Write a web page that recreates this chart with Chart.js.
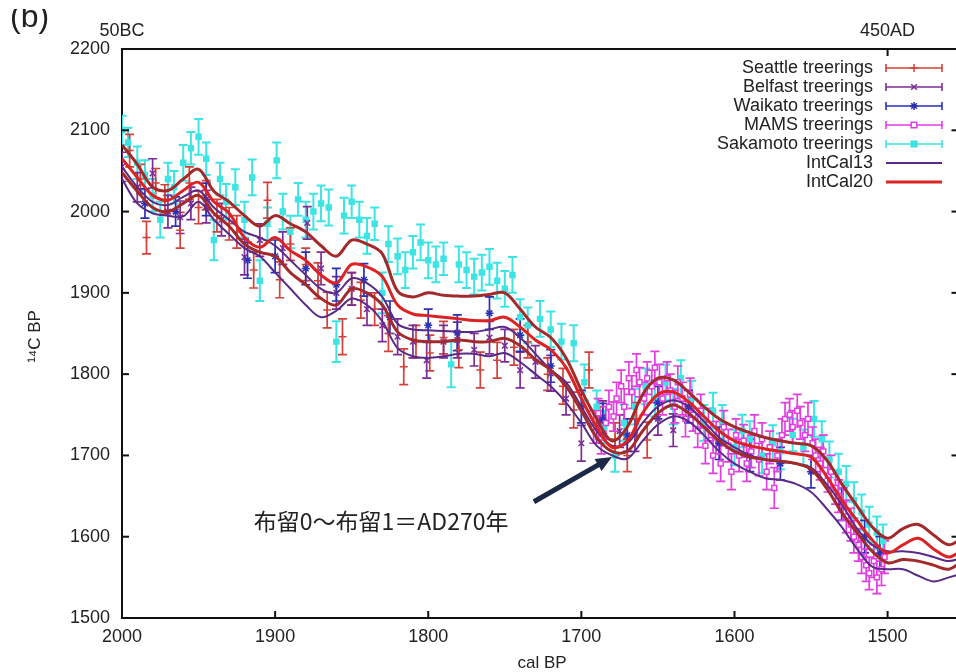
<!DOCTYPE html>
<html>
<head>
<meta charset="utf-8">
<script src="https://cdn.jsdelivr.net/npm/chart.js@4.4.0/dist/chart.umd.min.js"></script>
<style>
  html, body { margin: 0; padding: 0; background: #fff; overflow: hidden; }
</style>
</head>
<body>
<canvas id="graf14c" width="962" height="672"></canvas>
<script>
// eixos ------------------------------------------
const xTickValues = [2000, 1900, 1800, 1700, 1600, 1500];
const yTickValues = [1500, 1600, 1700, 1800, 1900, 2000, 2100, 2200];
const topLabelYears = [2000, 1500];
const topLabels = ['50BC', '450AD'];

// curvas de calibracao (cal BP -> 14C BP) -----------
const curveYears = [2000,1990,1980,1970,1960,1950,1940,1930,1920,1910,
  1900,1890,1880,1870,1860,1850,1840,1830,1820,1810,
  1800,1790,1780,1770,1760,1750,1740,1730,1720,1710,
  1700,1690,1680,1670,1660,1650,1640,1630,1620,1610,
  1600,1590,1580,1570,1560,1550,1540,1530,1520,1510,
  1500,1490,1480,1470,1460,1450];
const intcal20Upper = [2082,2058,2030,2026,2040,2052,2025,2012,1995,1982,
  1995,1985,1975,1958,1945,1965,1960,1948,1902,1895,
  1900,1897,1896,1896,1898,1900,1880,1858,1845,1820,
  1780,1745,1718,1735,1775,1795,1793,1778,1760,1745,
  1735,1728,1722,1718,1715,1712,1695,1665,1638,1612,
  1598,1610,1615,1602,1590,1600];
const intcal20Mid = [2065,2042,2020,2014,2026,2036,2012,1998,1968,1956,
  1968,1952,1940,1922,1912,1935,1932,1920,1885,1874,
  1872,1870,1868,1866,1866,1870,1858,1842,1830,1808,
  1770,1735,1710,1718,1752,1775,1778,1766,1748,1730,
  1718,1712,1708,1705,1702,1698,1675,1645,1620,1596,
  1580,1590,1598,1585,1575,1585];
const intcal20Lower = [2048,2025,2005,2000,2010,2020,1998,1982,1960,1950,
  1945,1925,1910,1893,1885,1905,1900,1885,1852,1842,
  1840,1840,1842,1840,1840,1844,1835,1818,1805,1785,
  1755,1722,1705,1705,1730,1752,1762,1752,1735,1718,
  1705,1698,1695,1693,1690,1683,1660,1630,1605,1582,
  1568,1572,1570,1565,1560,1572];
const intcal13Upper = [2055,2030,2012,2008,2018,2026,2005,1990,1975,1968,
  1958,1940,1922,1905,1900,1918,1912,1895,1862,1855,
  1854,1853,1852,1852,1855,1858,1845,1825,1805,1790,
  1760,1730,1712,1715,1740,1760,1768,1760,1742,1722,
  1710,1700,1695,1692,1690,1685,1665,1640,1610,1590,
  1582,1582,1580,1575,1570,1575];
const intcal13Lower = [2040,2010,1998,1995,1994,2012,1990,1972,1955,1945,
  1925,1905,1885,1870,1878,1893,1885,1865,1832,1822,
  1820,1822,1825,1825,1822,1826,1815,1800,1785,1765,
  1740,1712,1700,1696,1718,1738,1748,1742,1725,1705,
  1690,1680,1672,1670,1665,1655,1635,1612,1585,1563,
  1560,1560,1552,1545,1550,1555];

// medidas (aneis de arvores) ----------------------
const seattleYears = [1995,1988,1984,1978,1972,1962,1956,1950,1945,1938,
  1930,1925,1914,1905,1897,1890,1880,1872,1866,1856,
  1850,1844,1835,1826,1816,1808,1799,1790,1780,1766,
  1755,1744,1735,1722,1712,1705,1695,1688,1678,1670,
  1664,1657];
const seattleC14 = [2075,2040,1968,2035,2015,1977,2035,2005,2020,1995,
  1985,1975,1928,2014,1916,1960,1935,1915,1879,1846,
  1905,1891,1880,1850,1809,1840,1826,1845,1830,1805,
  1817,1833,1840,1800,1785,1756,1805,1740,1720,1700,
  1745,1719];
const seattleErr = [20,18,20,18,18,22,20,20,18,20,
  20,20,22,22,22,20,20,22,22,22,
  20,22,20,22,22,20,22,20,22,22,
  22,22,20,20,22,22,22,20,20,20,
  20,22];

const belfastYears = [2000,1990,1980,1970,1962,1955,1945,1935,1920,1910,
  1895,1879,1870,1860,1850,1840,1830,1820,1810,1801,
  1790,1781,1770,1760,1750,1740,1730,1720,1710,1700,
  1690,1686,1675,1665,1650,1640];
const belfastC14 = [2055,2030,2047,2000,1993,2010,2006,1990,1944,1965,
  1955,1986,1930,1900,1905,1880,1860,1846,1840,1817,
  1840,1842,1830,1845,1835,1805,1815,1801,1770,1715,
  1735,1747,1730,1725,1745,1731];
const belfastErr = [18,18,18,20,20,20,20,20,22,20,
  20,20,20,20,20,20,20,22,20,22,
  20,22,20,20,20,22,20,22,20,22,
  20,20,20,20,20,20];

const waikatoYears = [1985,1965,1945,1918,1900,1880,1860,1842,1825,1800,
  1781,1760,1740,1720,1700,1686,1670,1650,1630,1610,
  1590,1570,1550,1530,1515,1505];
const waikatoC14 = [2010,2000,2015,1940,1945,1930,1910,1916,1870,1860,
  1851,1875,1848,1810,1760,1744,1725,1765,1760,1715,
  1700,1690,1680,1640,1600,1580];
const waikatoErr = [18,18,20,22,20,20,20,20,20,20,
  22,20,20,20,20,20,20,20,20,20,
  20,20,20,20,20,20];

const mamsYears = [1692,1689,1687,1684,1682,1679,1677,1674,1672,1669,
  1667,1664,1662,1659,1657,1654,1652,1649,1647,1644,
  1642,1639,1637,1634,1632,1629,1627,1624,1622,1619,
  1617,1614,1612,1609,1607,1604,1602,1599,1597,1594,
  1592,1589,1587,1584,1582,1579,1577,1574,1572,1569,
  1567,1564,1562,1559,1557,1554,1552,1549,1547,1544,
  1542,1539,1537,1534,1532,1529,1527,1524,1522,1519,
  1517,1514,1512,1509,1507,1504,1502];
const mamsC14 = [1735,1752,1722,1740,1760,1748,1770,1785,1760,1795,
  1778,1805,1790,1770,1795,1785,1808,1790,1770,1795,
  1780,1760,1790,1770,1745,1775,1750,1730,1755,1712,
  1738,1700,1722,1690,1735,1712,1680,1725,1700,1718,
  1690,1705,1730,1695,1720,1680,1710,1660,1700,1725,
  1745,1750,1735,1755,1740,1725,1745,1715,1700,1690,
  1705,1675,1680,1660,1650,1640,1625,1615,1600,1590,
  1575,1565,1555,1570,1550,1560,1575];
const mamsErr = [20,18,20,20,20,18,20,20,22,20,
  20,20,18,20,20,20,20,22,20,20,
  20,20,20,20,22,20,20,20,20,22,
  20,22,20,22,20,20,22,20,20,20,
  22,20,20,20,20,22,20,25,20,20,
  20,20,20,20,20,20,20,20,20,20,
  20,20,20,20,20,20,20,20,20,20,
  20,20,20,20,20,20,20];

const sakamotoYears = [2000,1996,1990,1985,1980,1975,1970,1966,1960,1955,
  1950,1945,1940,1936,1932,1926,1920,1915,1910,1905,
  1899,1895,1890,1885,1880,1875,1870,1865,1860,1855,
  1850,1845,1840,1835,1830,1826,1820,1815,1810,1805,
  1800,1795,1790,1785,1780,1775,1770,1765,1760,1755,
  1750,1745,1740,1735,1727,1720,1713,1705,1698,1690,
  1685,1678,1672,1665,1658,1652,1645,1640,1635,1628,
  1620,1614,1608,1600,1595,1590,1582,1575,1570,1562,
  1555,1548,1543,1538,1532,1527,1522,1517,1512,1507,
  1503];
const sakamotoC14 = [2100,2085,2060,2045,2020,1990,2040,2030,2060,2078,
  2092,2065,1965,2040,2012,2030,1990,2042,1915,1985,
  2063,2000,1975,2015,1990,2000,2010,2005,1840,1995,
  2012,1990,1970,1985,1900,1960,1945,1928,1950,1962,
  1940,1935,1942,1812,1935,1928,1920,1925,1932,1915,
  1905,1922,1870,1860,1868,1855,1840,1838,1790,1760,
  1735,1700,1740,1760,1785,1770,1790,1760,1795,1770,
  1740,1755,1740,1710,1730,1720,1700,1715,1705,1725,
  1710,1745,1720,1695,1680,1665,1645,1630,1615,1605,
  1595];
const sakamotoErr = [18,18,20,18,20,22,20,20,22,20,
  22,20,25,20,22,22,22,22,25,20,
  22,22,20,20,22,22,22,22,25,22,
  20,22,22,20,25,22,22,22,20,22,
  22,22,20,28,22,22,22,22,22,22,
  22,22,22,22,22,22,22,22,22,20,
  20,20,22,22,22,22,22,22,22,22,
  22,22,22,22,20,22,22,22,22,20,
  22,22,22,22,22,22,22,22,22,20,
  20];

// anotacao
const noteText = '布留0〜布留1＝AD270年';
const noteAt = [1910, 1619];
const arrowFrom = [1731, 1643];
const arrowTo = [1680, 1698];

// cores
const corSeattle = '#d2423a';
const corBelfast = '#7c2c96';
const corWaikato = '#2a30b8';
const corMams = '#e23ee2';
const corSakamoto = '#3de4e4';
const corIntcal13 = '#5a2a88';
const corIntcal20 = '#dc2222';
const corIntcal20Edge = '#a32a2a';

function pts(xs, ys) { return xs.map((v, i) => ({ x: v, y: ys[i] })); }

// series com barras de erro (ordem de desenho)
const pointSeries = [
  { label: 'Sakamoto treerings', years: sakamotoYears, c14: sakamotoC14, err: sakamotoErr, color: corSakamoto, style: 'rect', fill: corSakamoto, radius: 3.5, bw: 2 },
  { label: 'Seattle treerings', years: seattleYears, c14: seattleC14, err: seattleErr, color: corSeattle, style: 'cross', fill: corSeattle, radius: 4, bw: 1.7 },
  { label: 'Belfast treerings', years: belfastYears, c14: belfastC14, err: belfastErr, color: corBelfast, style: 'crossRot', fill: corBelfast, radius: 4, bw: 1.7 },
  { label: 'Waikato treerings', years: waikatoYears, c14: waikatoC14, err: waikatoErr, color: corWaikato, style: 'star', fill: corWaikato, radius: 4, bw: 1.7 },
  { label: 'MAMS treerings', years: mamsYears, c14: mamsC14, err: mamsErr, color: corMams, style: 'rect', fill: '#ffffff', radius: 3.5, bw: 1.7 }
];

const datasets = [];
pointSeries.forEach((s, i) => {
  datasets.push({
    label: s.label,
    data: pts(s.years, s.c14),
    showLine: false,
    pointStyle: s.style,
    pointRadius: s.radius,
    pointBackgroundColor: s.fill,
    pointBorderColor: s.color,
    pointBorderWidth: 1.5,
    order: 10 + (pointSeries.length - i)
  });
});

function curve(label, ys, color, width, order) {
  return {
    label: label,
    data: pts(curveYears, ys),
    showLine: true,
    borderColor: color,
    borderWidth: width,
    pointRadius: 0,
    tension: 0.35,
    order: order
  };
}
datasets.push(curve('IntCal13 +1s', intcal13Upper, corIntcal13, 2, 3));
datasets.push(curve('IntCal13 -1s', intcal13Lower, corIntcal13, 2, 3));
datasets.push(curve('IntCal20 +1s', intcal20Upper, corIntcal20Edge, 3, 2));
datasets.push(curve('IntCal20 -1s', intcal20Lower, corIntcal20Edge, 3, 2));
datasets.push(curve('IntCal20', intcal20Mid, corIntcal20, 3, 1));

// barras de erro ------------------------------------
const errorBars = {
  id: 'errorBars',
  beforeDatasetsDraw(chart) {
    const { ctx, chartArea: a, scales: { x, y } } = chart;
    ctx.save();
    ctx.beginPath();
    ctx.rect(a.left, a.top, a.right - a.left, a.bottom - a.top);
    ctx.clip();
    pointSeries.forEach(s => {
      ctx.strokeStyle = s.color;
      ctx.lineWidth = s.bw;
      s.years.forEach((yr, i) => {
        const px = x.getPixelForValue(yr);
        const top = y.getPixelForValue(s.c14[i] + s.err[i]);
        const bot = y.getPixelForValue(s.c14[i] - s.err[i]);
        ctx.beginPath();
        ctx.moveTo(px, top); ctx.lineTo(px, bot);
        ctx.moveTo(px - 4.5, top); ctx.lineTo(px + 4.5, top);
        ctx.moveTo(px - 4.5, bot); ctx.lineTo(px + 4.5, bot);
        ctx.stroke();
      });
    });
    ctx.restore();
  }
};

// moldura, rotulos, legenda, anotacao ---------------
const legendRows = [
  { label: 'Seattle treerings', color: corSeattle, style: 'cross', fill: corSeattle, bar: true, width: 1.6 },
  { label: 'Belfast treerings', color: corBelfast, style: 'crossRot', fill: corBelfast, bar: true, width: 1.6 },
  { label: 'Waikato treerings', color: corWaikato, style: 'star', fill: corWaikato, bar: true, width: 1.6 },
  { label: 'MAMS treerings', color: corMams, style: 'rect', fill: '#ffffff', bar: true, width: 1.6 },
  { label: 'Sakamoto treerings', color: corSakamoto, style: 'rect', fill: corSakamoto, bar: true, width: 1.6 },
  { label: 'IntCal13', color: corIntcal13, bar: false, width: 2 },
  { label: 'IntCal20', color: corIntcal20, bar: false, width: 3 }
];

const decorations = {
  id: 'decorations',
  afterDraw(chart) {
    const { ctx, chartArea: a, scales: { x, y } } = chart;
    ctx.save();
    ctx.strokeStyle = '#111';
    ctx.lineWidth = 2;
    ctx.beginPath();
    ctx.moveTo(a.left - 1, a.top); ctx.lineTo(a.right, a.top);
    ctx.stroke();

    // ticks para dentro
    xTickValues.forEach(v => {
      if (v === 2000) return;
      const px = x.getPixelForValue(v);
      ctx.beginPath(); ctx.moveTo(px, a.bottom); ctx.lineTo(px, a.bottom - 7); ctx.stroke();
    });
    yTickValues.forEach(v => {
      if (v === 1500 || v === 2200) return;
      const py = y.getPixelForValue(v);
      ctx.beginPath(); ctx.moveTo(a.left, py); ctx.lineTo(a.left + 7, py); ctx.stroke();
      ctx.beginPath(); ctx.moveTo(a.right - 5, py); ctx.lineTo(a.right, py); ctx.stroke();
    });
    const pxAD = x.getPixelForValue(topLabelYears[1]);
    ctx.beginPath(); ctx.moveTo(pxAD, a.top); ctx.lineTo(pxAD, a.top + 7); ctx.stroke();

    ctx.fillStyle = '#222';
    ctx.textBaseline = 'middle';
    ctx.textAlign = 'center';
    ctx.font = '18px "Liberation Sans", Arial, sans-serif';
    topLabels.forEach((t, i) => ctx.fillText(t, x.getPixelForValue(topLabelYears[i]), 31));
    ctx.font = '17px "Liberation Sans", Arial, sans-serif';
    ctx.fillText('cal BP', 542, 663);

    ctx.save();
    ctx.translate(35, (a.top + a.bottom) / 2 + 3);
    ctx.rotate(-Math.PI / 2);
    ctx.font = '17px "Liberation Sans", Arial, sans-serif';
    ctx.fillText('¹⁴C BP', 0, 0);
    ctx.restore();

    // "(b)" cortado no topo, como no original
    ctx.save();
    ctx.beginPath();
    ctx.rect(0, 9, 90, 40);
    ctx.clip();
    ctx.textAlign = 'left';
    ctx.textBaseline = 'alphabetic';
    ctx.font = '32px "Liberation Sans", Arial, sans-serif';
    ctx.fillText('(b)', 10, 27);
    ctx.restore();

    // legenda
    ctx.font = '18px "Liberation Sans", Arial, sans-serif';
    ctx.textBaseline = 'middle';
    legendRows.forEach((r, i) => {
      const ly = 68 + i * 19;
      ctx.fillStyle = '#222';
      ctx.textAlign = 'right';
      ctx.fillText(r.label, 873, ly);
      ctx.strokeStyle = r.color;
      ctx.lineWidth = r.width;
      ctx.beginPath();
      ctx.moveTo(886, ly); ctx.lineTo(942, ly);
      if (r.bar) {
        ctx.moveTo(886, ly - 4); ctx.lineTo(886, ly + 4);
        ctx.moveTo(942, ly - 4); ctx.lineTo(942, ly + 4);
      }
      ctx.stroke();
      if (r.style) {
        ctx.fillStyle = r.fill;
        ctx.lineWidth = 1.5;
        Chart.helpers.drawPoint(ctx, { pointStyle: r.style, radius: 4, borderWidth: 1.5, rotation: 0 }, 914, ly);
      }
    });

    // anotacao com seta
    const x0 = x.getPixelForValue(arrowFrom[0]), y0 = y.getPixelForValue(arrowFrom[1]);
    const x1 = x.getPixelForValue(arrowTo[0]), y1 = y.getPixelForValue(arrowTo[1]);
    const ang = Math.atan2(y1 - y0, x1 - x0);
    const head = 16;
    ctx.strokeStyle = '#1b2846';
    ctx.fillStyle = '#1b2846';
    ctx.lineWidth = 5;
    ctx.beginPath();
    ctx.moveTo(x0, y0);
    ctx.lineTo(x1 - head * 0.8 * Math.cos(ang), y1 - head * 0.8 * Math.sin(ang));
    ctx.stroke();
    ctx.beginPath();
    ctx.moveTo(x1, y1);
    ctx.lineTo(x1 - head * Math.cos(ang) + 7 * Math.sin(ang), y1 - head * Math.sin(ang) - 7 * Math.cos(ang));
    ctx.lineTo(x1 - head * Math.cos(ang) - 7 * Math.sin(ang), y1 - head * Math.sin(ang) + 7 * Math.cos(ang));
    ctx.closePath();
    ctx.fill();

    ctx.fillStyle = '#222';
    ctx.textAlign = 'left';
    ctx.font = '23px "Noto Sans CJK JP", "Noto Sans CJK SC", sans-serif';
    ctx.fillText(noteText, x.getPixelForValue(noteAt[0]) - 6, y.getPixelForValue(noteAt[1]));
    ctx.restore();
  }
};

Chart.defaults.font.family = '"Liberation Sans", Arial, sans-serif';

new Chart(document.getElementById('graf14c').getContext('2d'), {
  type: 'scatter',
  data: { datasets: datasets },
  options: {
    responsive: false,
    animation: false,
    layout: { padding: { top: 49, left: 0, right: 0, bottom: 0 } },
    plugins: { legend: { display: false }, tooltip: { enabled: false } },
    scales: {
      x: {
        type: 'linear',
        reverse: true,
        min: 1455,
        max: 2000,
        afterBuildTicks: s => { s.ticks = xTickValues.map(v => ({ value: v })); },
        afterFit: s => { s.height = 54; },
        grid: { display: false, tickLength: 8 },
        border: { display: true, color: '#111', width: 2 },
        ticks: { color: '#222', font: { size: 18 }, padding: 0, maxRotation: 0, autoSkip: false, callback: v => String(v) }
      },
      y: {
        type: 'linear',
        min: 1500,
        max: 2200,
        afterBuildTicks: s => { s.ticks = yTickValues.map(v => ({ value: v })); },
        afterFit: s => { s.width = 122; },
        grid: { display: false, tickLength: 8 },
        border: { display: true, color: '#111', width: 2 },
        ticks: { color: '#222', font: { size: 18 }, padding: 4, callback: v => String(v) }
      }
    }
  },
  plugins: [errorBars, decorations]
});
</script>
</body>
</html>
